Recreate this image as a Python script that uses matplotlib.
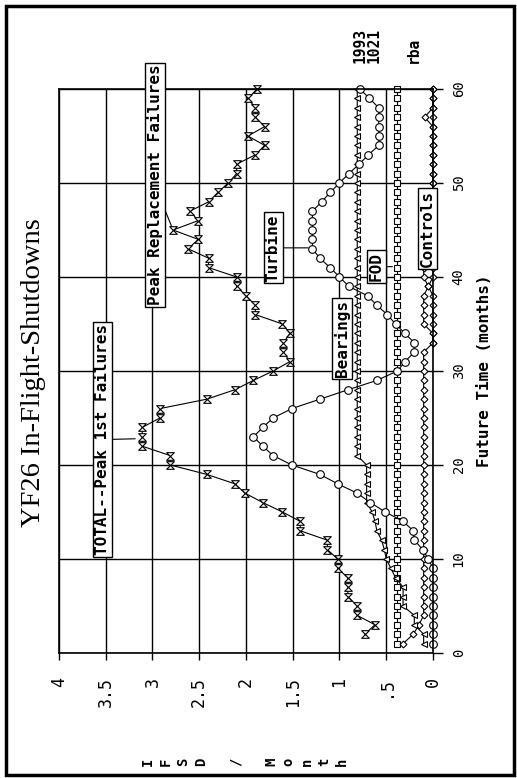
import matplotlib
matplotlib.use("Agg")
import matplotlib.pyplot as plt
from matplotlib.path import Path
from matplotlib.patches import Rectangle

# IFSD per month by cause, month 1..60
months = list(range(1, 61))

total_months = list(range(2, 61))
total = [0.73, 0.62, 0.81, 0.81, 0.91, 0.91, 0.91, 1.02, 1.02, 1.13,
         1.13, 1.42, 1.42, 1.61, 1.82, 2.01, 2.12, 2.42, 2.81, 2.81,
         3.11, 3.11, 3.11, 2.92, 2.92, 2.42, 2.12, 1.92, 1.71, 1.53,
         1.60, 1.60, 1.53, 1.61, 1.90, 1.90, 2.00, 2.10, 2.10, 2.40,
         2.40, 2.62, 2.51, 2.78, 2.51, 2.60, 2.40, 2.30, 2.19, 2.10,
         2.10, 1.90, 1.80, 1.98, 1.80, 1.90, 1.90, 1.98, 1.88]

turbine = [0.00, 0.00, 0.00, 0.00, 0.00, 0.00, 0.00, 0.00, 0.00, 0.05,
           0.11, 0.20, 0.21, 0.32, 0.51, 0.67, 0.81, 1.02, 1.21, 1.51,
           1.71, 1.82, 1.92, 1.82, 1.71, 1.51, 1.21, 0.91, 0.60, 0.38,
           0.30, 0.20, 0.20, 0.30, 0.40, 0.49, 0.60, 0.70, 0.90, 1.00,
           1.10, 1.21, 1.29, 1.29, 1.29, 1.29, 1.29, 1.19, 1.10, 1.00,
           0.90, 0.79, 0.69, 0.58, 0.58, 0.58, 0.58, 0.58, 0.68, 0.78]

bearings = [0.10, 0.10, 0.20, 0.20, 0.32, 0.32, 0.32, 0.40, 0.45, 0.50,
            0.52, 0.55, 0.60, 0.62, 0.65, 0.71, 0.71, 0.71, 0.71, 0.71,
            0.81, 0.81, 0.81, 0.81, 0.81, 0.81, 0.81, 0.81, 0.81, 0.81,
            0.81, 0.81, 0.81, 0.81, 0.81, 0.81, 0.81, 0.81, 0.81, 0.81,
            0.81, 0.81, 0.81, 0.81, 0.81, 0.81, 0.81, 0.81, 0.81, 0.81,
            0.81, 0.81, 0.81, 0.81, 0.81, 0.81, 0.81, 0.81, 0.81, 0.81]

fod = [0.39, 0.39, 0.39, 0.39, 0.39, 0.39, 0.39, 0.39, 0.39, 0.39,
       0.39, 0.39, 0.39, 0.39, 0.39, 0.39, 0.39, 0.39, 0.39, 0.39,
       0.39, 0.39, 0.39, 0.39, 0.39, 0.39, 0.39, 0.39, 0.39, 0.39,
       0.39, 0.39, 0.39, 0.39, 0.39, 0.39, 0.39, 0.39, 0.39, 0.39,
       0.39, 0.39, 0.39, 0.39, 0.39, 0.39, 0.39, 0.39, 0.39, 0.39,
       0.39, 0.39, 0.39, 0.39, 0.39, 0.39, 0.39, 0.39, 0.39, 0.39]

controls = [0.32, 0.21, 0.15, 0.10, 0.10, 0.10, 0.10, 0.10, 0.10, 0.10,
            0.10, 0.10, 0.10, 0.10, 0.10, 0.10, 0.10, 0.10, 0.10, 0.10,
            0.10, 0.10, 0.10, 0.10, 0.10, 0.10, 0.10, 0.10, 0.10, 0.10,
            0.10, 0.10, 0.00, 0.00, 0.10, 0.10, 0.10, 0.10, 0.05, 0.00,
            0.00, 0.00, 0.00, 0.00, 0.00, 0.00, 0.00, 0.00, 0.00, 0.00,
            0.00, 0.00, 0.00, 0.00, 0.00, 0.00, 0.09, 0.00, 0.00, 0.00]

other_months = list(range(33, 61))
other = [0.00, 0.00, 0.00, 0.00, 0.00, 0.00, 0.05, 0.10, 0.10, 0.10,
         0.10, 0.10, 0.10, 0.10, 0.10, 0.10, 0.00, 0.00, 0.00, 0.00,
         0.00, 0.00, 0.00, 0.00, 0.00, 0.00, 0.00, 0.00]

value_ticks = [0, 0.5, 1, 1.5, 2, 2.5, 3, 3.5, 4]
value_labels = ["0", ".5", "1", "1.5", "2", "2.5", "3", "3.5", "4"]
time_ticks = [0, 10, 20, 30, 40, 50, 60]
time_labels = ["0", "10", "20", "30", "40", "50", "60"]

MONO = "DejaVu Sans Mono"

hourglass = Path([(-1, 1), (1, 1), (-1, -1), (1, -1), (-1, 1)],
                 [Path.MOVETO, Path.LINETO, Path.LINETO, Path.LINETO, Path.CLOSEPOLY])

fig = plt.figure(figsize=(5.17, 7.78), dpi=100)
ax = fig.add_axes([0.1141, 0.1607, 0.7234, 0.7249])

# the chart is laid on its side: IFSD/month runs right-to-left, time runs upward
style = dict(color="black", lw=0.8, mfc="white", mec="black", mew=0.8, clip_on=False)
ax.plot(fod, months, marker="s", ms=5, **style)
ax.plot(other, other_months, marker="D", ms=3.5, **style)
ax.plot(controls, months, marker="D", ms=3.5, **style)
ax.plot(bearings, months, marker="<", ms=3.8, **style)
ax.plot(turbine, months, marker="o", ms=5.5, **style)
ax.plot(total, total_months, marker=hourglass, ms=5.5, **style)

ax.set_xlim(4, 0)
ax.set_ylim(0, 60)
ax.set_xticks(value_ticks, value_labels)
ax.set_yticks(time_ticks, time_labels)
ax.yaxis.tick_right()
ax.tick_params(axis="x", direction="out", length=5, width=1, pad=12,
               labelsize=12, labelrotation=90)
ax.tick_params(axis="y", direction="out", length=7, width=1, pad=6.5,
               labelsize=10, labelrotation=90, left=False, right=True)
for lbl in ax.get_xticklabels():
    lbl.set_family(MONO)
    lbl.set_ha("center")
    lbl.set_va("top")
for lbl in ax.get_yticklabels():
    lbl.set_family(MONO)
    lbl.set_ha("left")
    lbl.set_va("center")
ax.grid(True, color="black", lw=1.0)
ax.set_axisbelow(True)
for s in ax.spines.values():
    s.set_linewidth(1.2)

ax.yaxis.set_label_position("right")
ax.set_ylabel("Future Time (months)", rotation=90, family=MONO,
              fontweight="bold", fontsize=11.5, labelpad=8)

# boxed callouts
box = dict(boxstyle="square,pad=0.12", fc="white", ec="black", lw=1.0)
arrow = dict(arrowstyle="-", color="black", lw=0.8, shrinkA=0, shrinkB=3)
callouts = [
    ("TOTAL--Peak 1st Failures", (3.14, 22.8), (3.536, 22.7)),
    ("Peak Replacement Failures", (2.78, 45.0), (2.975, 49.8)),
    ("Turbine", (1.29, 43.1), (1.709, 43.1)),
    ("Bearings", (0.81, 33.5), (0.972, 33.5)),
    ("FOD", (0.39, 41.1), (0.604, 41.1)),
]
for text, xy, xytext in callouts:
    ax.annotate(text, xy=xy, xytext=xytext, rotation=90, ha="center", va="center",
                family=MONO, fontweight="bold", fontsize=11.5, bbox=box,
                arrowprops=arrow, annotation_clip=False, zorder=5)
ax.text(0.059, 45.2, "Controls", rotation=90, ha="center", va="center",
        family=MONO, fontweight="bold", fontsize=11.5, bbox=box,
        clip_on=False, zorder=5)

fig.text(0.0648, 0.521, "YF26 In-Flight-Shutdowns", rotation=90, ha="center",
         va="center", family="Liberation Serif", fontsize=20.5)

# stacked axis caption, one character per slot
caption = "IFSD / Month"
for i, ch in enumerate(caption):
    if ch != " ":
        fig.text((148 + 17.6 * i) / 517, 1 - 762 / 778, ch, rotation=90,
                 ha="center", va="center", family=MONO, fontweight="bold",
                 fontsize=10)

fig.text(360 / 517, 1 - 63 / 778, "1993", rotation=90, ha="center", va="bottom",
         family=MONO, fontweight="bold", fontsize=10.5)
fig.text(374 / 517, 1 - 63 / 778, "1021", rotation=90, ha="center", va="bottom",
         family=MONO, fontweight="bold", fontsize=10.5)
fig.text(413 / 517, 1 - 63 / 778, "rba", rotation=90, ha="center", va="bottom",
         family=MONO, fontweight="bold", fontsize=10.5)

fig.add_artist(Rectangle((6 / 517, 3 / 778), 508 / 517, 769 / 778,
                         transform=fig.transFigure, fill=False, ec="black", lw=2.5))

fig.savefig("out.png", dpi=100)
